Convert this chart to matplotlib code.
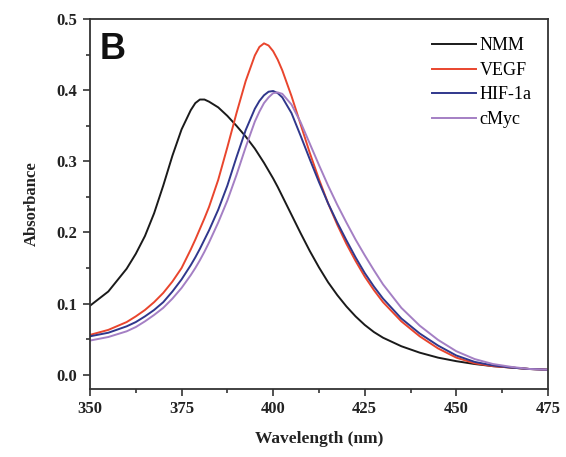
import matplotlib
matplotlib.use("Agg")
import matplotlib.pyplot as plt
from matplotlib.ticker import MultipleLocator

# -----------------------------
# Data
# -----------------------------
wavelength = [350, 355, 360, 362.5, 365, 367.5, 370, 372.5, 375, 377.5,
              378.75, 380, 381.25, 382.5, 385, 387.5, 390, 392.5, 395, 396.25,
              397.5, 398.75, 400, 401.25, 402.5, 405, 407.5, 410, 412.5, 415,
              417.5, 420, 422.5, 425, 427.5, 430, 435, 440, 445, 450,
              455, 460, 465, 470, 475]

nmm = [0.097, 0.117, 0.149, 0.170, 0.195, 0.227, 0.266, 0.308, 0.345, 0.372,
       0.382, 0.387, 0.387, 0.384, 0.376, 0.364, 0.350, 0.335, 0.318, 0.308,
       0.298, 0.287, 0.276, 0.264, 0.251, 0.225, 0.199, 0.174, 0.151, 0.130,
       0.112, 0.096, 0.082, 0.070, 0.060, 0.052, 0.040, 0.031, 0.024, 0.019,
       0.015, 0.012, 0.010, 0.008, 0.007]

vegf = [0.056, 0.063, 0.074, 0.082, 0.091, 0.102, 0.115, 0.131, 0.150, 0.176,
        0.190, 0.205, 0.220, 0.236, 0.274, 0.320, 0.368, 0.413, 0.449, 0.461,
        0.466, 0.463, 0.455, 0.443, 0.428, 0.392, 0.352, 0.312, 0.275, 0.241,
        0.211, 0.184, 0.160, 0.138, 0.119, 0.102, 0.075, 0.054, 0.037, 0.024,
        0.016, 0.012, 0.010, 0.008, 0.007]

hif = [0.054, 0.059, 0.068, 0.074, 0.082, 0.091, 0.102, 0.117, 0.134, 0.154,
       0.165, 0.177, 0.190, 0.203, 0.232, 0.266, 0.306, 0.344, 0.374, 0.385,
       0.393, 0.398, 0.399, 0.396, 0.390, 0.368, 0.336, 0.303, 0.271, 0.241,
       0.214, 0.189, 0.165, 0.143, 0.124, 0.107, 0.079, 0.058, 0.041, 0.027,
       0.018, 0.013, 0.010, 0.008, 0.007]

cmyc = [0.048, 0.053, 0.061, 0.067, 0.075, 0.084, 0.094, 0.107, 0.122, 0.140,
        0.150, 0.161, 0.173, 0.186, 0.214, 0.245, 0.281, 0.320, 0.356, 0.370,
        0.382, 0.390, 0.396, 0.397, 0.395, 0.380, 0.355, 0.325, 0.295, 0.266,
        0.239, 0.214, 0.190, 0.168, 0.147, 0.127, 0.094, 0.069, 0.049, 0.033,
        0.022, 0.015, 0.011, 0.008, 0.007]

labels = ["NMM", "VEGF", "HIF-1a", "cMyc"]
colors = ["#1a1a1a", "#e9452d", "#30378c", "#a47fc4"]

# -----------------------------
# Plot
# -----------------------------
serif = ["Liberation Serif", "DejaVu Serif"]

fig = plt.figure(figsize=(5.66, 4.57), dpi=100)
ax = fig.add_axes([0.159, 0.149, 0.809, 0.809])

for ys, lab, col in zip([nmm, vegf, hif, cmyc], labels, colors):
    ax.plot(wavelength, ys, color=col, lw=1.4, label=lab,
            solid_joinstyle="round")

ax.set_xlim(350, 475)
ax.set_ylim(-0.02, 0.5)
ax.xaxis.set_major_locator(MultipleLocator(25))
ax.xaxis.set_minor_locator(MultipleLocator(12.5))
ax.yaxis.set_major_locator(MultipleLocator(0.1))
ax.yaxis.set_minor_locator(MultipleLocator(0.05))
ax.yaxis.set_major_formatter(plt.FuncFormatter(lambda v, p: f"{v:.1f}"))

for s in ax.spines.values():
    s.set_linewidth(1.3)
    s.set_color("#333333")

ax.tick_params(which="major", direction="out", length=5, width=1.2, pad=4,
               color="#333333")
ax.tick_params(which="minor", direction="out", length=3, width=1.2,
               color="#333333")
for t in ax.get_xticklabels() + ax.get_yticklabels():
    t.set_family(serif)
    t.set_fontweight("bold")
    t.set_fontsize(12)
    t.set_color("#222222")

ax.set_xlabel("Wavelength (nm)", family=serif, fontweight="bold",
              fontsize=12.5, labelpad=10, color="#222222")
ax.set_ylabel("Absorbance", family=serif, fontweight="bold",
              fontsize=12, labelpad=12, color="#222222")

ax.text(0.022, 0.965, "B", transform=ax.transAxes, ha="left", va="top",
        family=["Liberation Sans", "DejaVu Sans"], fontweight="bold",
        fontsize=26, color="#111111")

leg = ax.legend(loc="upper right", frameon=False, handlelength=2.45,
                handletextpad=0.2, labelspacing=0.42,
                bbox_to_anchor=(1.0, 0.995),
                prop={"family": serif, "size": 13})

fig.savefig("out.png", dpi=100)
